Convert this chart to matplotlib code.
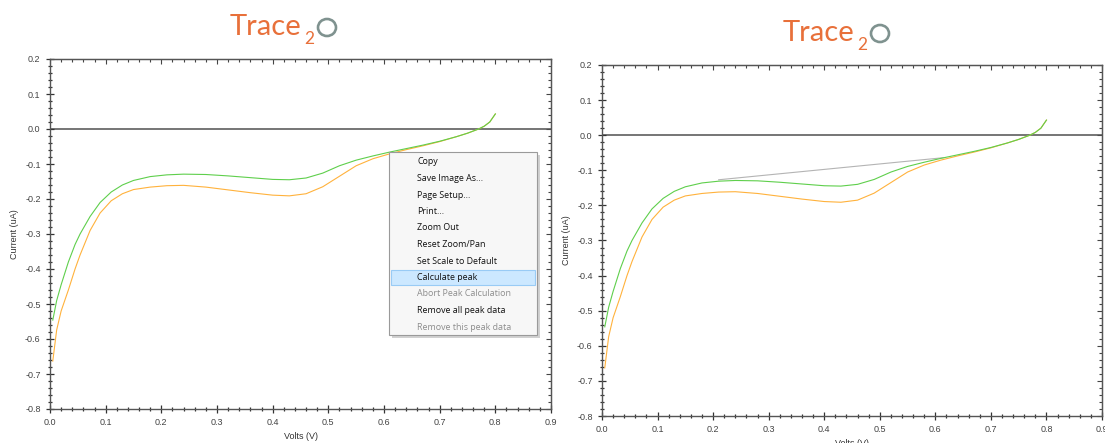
import matplotlib
matplotlib.use('Agg')
import matplotlib.pyplot as plt
from matplotlib.ticker import MultipleLocator, FuncFormatter
from matplotlib.patches import Rectangle, Ellipse

# data
volts = [0.005, 0.012, 0.02, 0.033, 0.045, 0.054, 0.072, 0.09, 0.11, 0.13,
         0.15, 0.18, 0.21, 0.24, 0.28, 0.32, 0.36, 0.40, 0.43, 0.46,
         0.49, 0.52, 0.55, 0.58, 0.61, 0.64, 0.67, 0.70, 0.73, 0.75,
         0.77, 0.78, 0.79, 0.80]
green = [-0.546, -0.49, -0.445, -0.38, -0.33, -0.30, -0.25, -0.21, -0.18, -0.16,
         -0.147, -0.136, -0.131, -0.129, -0.130, -0.134, -0.139, -0.144, -0.145, -0.140,
         -0.126, -0.105, -0.089, -0.077, -0.066, -0.056, -0.046, -0.035, -0.022, -0.012,
         0.0, 0.008, 0.02, 0.043]
orange = [-0.663, -0.574, -0.52, -0.46, -0.40, -0.36, -0.29, -0.24, -0.205, -0.185,
          -0.173, -0.166, -0.162, -0.161, -0.166, -0.174, -0.182, -0.189, -0.191, -0.185,
          -0.165, -0.135, -0.105, -0.085, -0.071, -0.059, -0.048, -0.036, -0.022, -0.012,
          0.0, 0.008, 0.02, 0.043]
baseline_x = [0.21, 0.615]
baseline_y = [-0.127, -0.064]

menu_items = ['Copy', 'Save Image As...', 'Page Setup...', 'Print...', 'Zoom Out',
              'Reset Zoom/Pan', 'Set Scale to Default', 'Calculate peak',
              'Abort Peak Calculation', 'Remove all peak data', 'Remove this peak data']
menu_disabled = ['Abort Peak Calculation', 'Remove this peak data']
menu_selected = 'Calculate peak'

W, H = 1105, 443


def fx(x):
    return x / W


def fy(y):
    return 1 - y / H


plt.rcParams['font.family'] = ['Liberation Sans', 'DejaVu Sans']

fig = plt.figure(figsize=(W / 100, H / 100), dpi=100)

fmt = FuncFormatter(lambda v, pos: '{:.1f}'.format(round(v, 1) + 0.0))


def style(ax, show_base=False):
    ax.axhline(0, color='#505050', lw=1.1, zorder=1)
    if show_base:
        ax.plot(baseline_x, baseline_y, color='#b4b4b4', lw=0.8)
    ax.plot(volts, orange, color='#ffb23c', lw=0.8)
    ax.plot(volts, green, color='#5fcf4c', lw=0.8)
    ax.set_xlim(0, 0.9)
    ax.set_ylim(-0.8, 0.2)
    for a in (ax.xaxis, ax.yaxis):
        a.set_major_locator(MultipleLocator(0.1))
        a.set_minor_locator(MultipleLocator(0.02))
        a.set_major_formatter(fmt)
    ax.tick_params(which='both', direction='inout', color='#333333', width=0.9,
                   labelsize=6.5, labelcolor='#444444', pad=4)
    ax.tick_params(which='major', length=5.5)
    ax.tick_params(which='minor', length=3.5)
    for s in ax.spines.values():
        s.set_color('#555555')
        s.set_linewidth(1.0)
    top = ax.secondary_xaxis('top')
    top.xaxis.set_major_locator(MultipleLocator(0.1))
    top.xaxis.set_minor_locator(MultipleLocator(0.02))
    top.tick_params(which='both', direction='in', labeltop=False, color='#444444', width=0.8)
    top.tick_params(which='major', length=3.5)
    top.tick_params(which='minor', length=2.2)
    top.spines['top'].set_color('#666666')
    right = ax.secondary_yaxis('right')
    right.yaxis.set_major_locator(MultipleLocator(0.1))
    right.yaxis.set_minor_locator(MultipleLocator(0.02))
    right.tick_params(which='both', direction='in', labelright=False, color='#444444', width=0.8)
    right.tick_params(which='major', length=3.5)
    right.tick_params(which='minor', length=2.2)
    right.spines['right'].set_color('#666666')
    ax.set_xlabel('Volts (V)', fontsize=6.5, color='#333333', labelpad=3)
    ax.set_ylabel('Current (uA)', fontsize=6.5, color='#333333', labelpad=4)


ax1 = fig.add_axes([fx(50), fy(409), 501 / W, 350 / H])
style(ax1)
ax2 = fig.add_axes([fx(602), fy(416), 500 / W, 351 / H])
style(ax2, show_base=True)


# Trace2O logos
def logo(x0, base):
    fig.text(fx(x0), fy(base), 'Trace', family='Lato', fontsize=21,
             color='#e8703a', ha='left', va='baseline')
    fig.text(fx(x0 + 74), fy(base + 9), '2', family='Lato', fontsize=12.5,
             color='#e8703a', ha='left', va='baseline')
    fig.patches.append(Ellipse((fx(x0 + 97), fy(base - 7.5)), 18 / W, 17 / H,
                               transform=fig.transFigure, fill=False,
                               ec='#7f928f', lw=1.9))


logo(230, 35)
logo(783, 41)

# context menu
mx, my, mw, mh = 389, 152, 148, 183
fig.patches.append(Rectangle((fx(mx + 3), fy(my + mh + 3)), mw / W, mh / H,
                             transform=fig.transFigure, fc='#000000', alpha=0.18,
                             ec='none', zorder=5))
fig.patches.append(Rectangle((fx(mx), fy(my + mh)), mw / W, mh / H,
                             transform=fig.transFigure, fc='#f7f7f7', ec='#9a9a9a',
                             lw=0.8, zorder=6))
row = 16.5
for i, item in enumerate(menu_items):
    yc = 162 + i * row
    if item == menu_selected:
        fig.patches.append(Rectangle((fx(mx + 2), fy(yc + 7.5)), (mw - 4) / W, 15 / H,
                                     transform=fig.transFigure, fc='#cce8ff',
                                     ec='#99cbf5', lw=0.8, zorder=7))
    col = '#8d8d8d' if item in menu_disabled else '#111111'
    fig.text(fx(417), fy(yc), item, fontsize=6.4, family=['Open Sans', 'DejaVu Sans'],
             color=col, ha='left', va='center', zorder=8)

fig.savefig('out.png', dpi=100)
